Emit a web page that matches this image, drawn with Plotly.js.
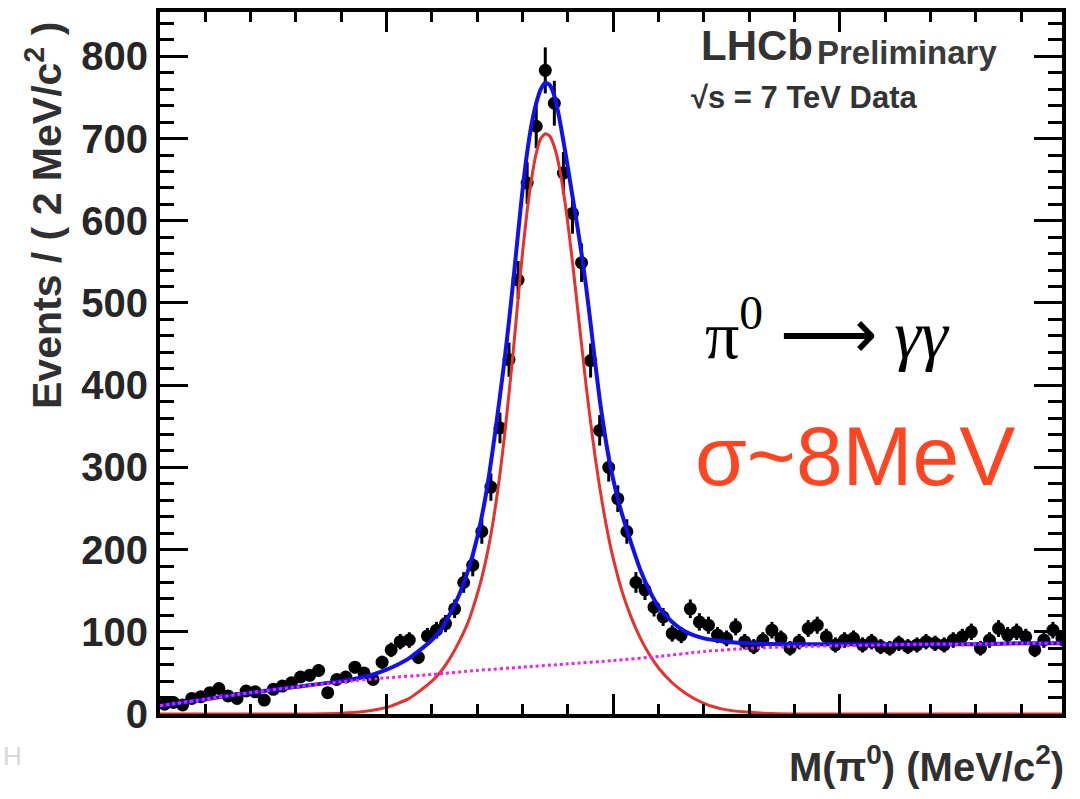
<!DOCTYPE html>
<html>
<head>
<meta charset="utf-8">
<script src="https://cdn.plot.ly/plotly-3.0.1.min.js"></script>
<style>
  html, body { margin: 0; padding: 0; background: #ffffff; }
  #chart { width: 1080px; height: 799px; }
</style>
</head>
<body>
<div id="chart"></div>
<script>
// ---- Data (M(pi0) in MeV/c^2, 2 MeV bins) ----
const binMass = [51,53,55,57,59,61,63,65,67,69,71,73,75,77,79,81,83,85,87,89,
                 91,93,95,97,99,101,103,105,107,109,111,113,115,117,119,121,123,125,127,129,
                 131,133,135,137,139,141,143,145,147,149,151,153,155,157,159,161,163,165,167,169,
                 171,173,175,177,179,181,183,185,187,189,191,193,195,197,199,201,203,205,207,209,
                 211,213,215,217,219,221,223,225,227,229,231,233,235,237,239,241,243,245,247,249];
const dataCounts = [12,14,11,19,21,26,31,22,19,28,27,17,30,34,38,45,47,53,26,42,
                    45,57,50,42,63,78,88,90,69,95,102,110,128,160,181,222,276,348,431,528,
                    646,715,783,743,658,609,549,430,345,300,262,222,160,151,130,118,98,96,128,112,
                    108,96,92,106,88,82,90,102,92,80,88,104,108,94,84,90,92,84,88,82,
                    80,86,82,84,88,86,84,90,94,100,80,90,104,96,100,94,78,90,102,92];
const dataErrors = [3.5,3.7,3.3,4.4,4.6,5.1,5.6,4.7,4.4,5.3,5.2,4.1,5.5,5.8,6.2,6.7,6.9,7.3,5.1,6.5,
                    6.7,7.5,7.1,6.5,7.9,8.8,9.4,9.5,8.3,9.7,10.1,10.5,11.3,12.6,13.5,14.9,16.6,18.7,20.8,23.0,
                    25.4,26.7,28.0,27.3,25.7,24.7,23.4,20.7,18.6,17.3,16.2,14.9,12.6,12.3,11.4,10.9,9.9,9.8,11.3,10.6,
                    10.4,9.8,9.6,10.3,9.4,9.1,9.5,10.1,9.6,8.9,9.4,10.2,10.4,9.7,9.2,9.5,9.6,9.2,9.4,9.1,
                    8.9,9.3,9.1,9.2,9.4,9.3,9.2,9.5,9.7,10.0,8.9,9.5,10.2,9.8,10.0,9.7,8.8,9.5,10.1,9.6];

// total fit (blue)
const fitMass = [50,60,70,80,90,95,100,105,110,112,114,116,118,120,122,124,126,127,128,129,
                 130,131,132,133,134,135,136,137,138,139,140,141,142,143,144,145,146,147,148,149,
                 150,151,152,154,156,158,160,163,166,170,175,180,190,200,210,220,230,240,250];
const fitTotal = [10,18,26,33,40,45,54,68,90,103,122,145,175,215,270,345,430,478,530,585,
                  638,683,718,743,760,768,765,752,728,697,664,630,596,560,520,475,428,383,345,312,
                  285,262,242,207,175,150,130,112,100,92,88,86,85,85,85,85,85,86,86];

// signal component (red)
const sigMass = [50,80,90,95,100,105,110,112,114,116,118,119,120,121,122,123,124,125,126,127,
                 128,129,130,131,132,133,134,135,136,137,138,139,140,141,142,143,144,145,146,147,
                 148,149,150,152,154,156,158,160,163,166,170,175,180,185,190,250];
const sigVals = [0,0,1,3,8,19,40,52,68,88,112,128,146,166,190,218,252,292,338,390,
                 445,505,562,612,652,682,700,706,703,690,668,636,596,550,500,450,400,355,313,276,
                 243,214,189,148,117,92,72,56,38,25,13,5,2,0.5,0,0];

// background component (magenta dotted)
const bkgMass = [50,60,70,80,90,100,110,120,130,140,150,160,170,180,190,200,210,220,230,240,250];
const bkgVals = [10,18,26,33,39,44,48,53,57,61,65,70,76,80,82,83,84,85,85,86,86];

// y-axis tick values
const yTickVals = [0,100,200,300,400,500,600,700,800];

// ---- Layout helpers (pixel -> paper fraction) ----
const PL = 160, PR = 1062, PT = 12, PB = 714;
const px = x => (x - PL) / (PR - PL);
const py = y => (PB - y) / (PB - PT);

const traces = [
  {
    x: binMass, y: dataCounts, type: 'scatter', mode: 'markers',
    marker: {color: '#000000', size: 13},
    error_y: {type: 'data', array: dataErrors, visible: true, color: '#000000', thickness: 3, width: 0},
    hoverinfo: 'skip', showlegend: false
  },
  {
    x: fitMass, y: fitTotal, type: 'scatter', mode: 'lines',
    line: {color: '#1010f0', width: 4, shape: 'spline', smoothing: 0.6},
    showlegend: false
  },
  {
    x: sigMass, y: sigVals, type: 'scatter', mode: 'lines',
    line: {color: '#e8312c', width: 3, shape: 'spline', smoothing: 0.6},
    showlegend: false
  },
  {
    x: bkgMass, y: bkgVals, type: 'scatter', mode: 'lines',
    line: {color: '#f020f0', width: 3, dash: 'dot', shape: 'spline', smoothing: 0.6},
    showlegend: false
  }
];

const textFont = 'Liberation Sans, Arial, Helvetica, sans-serif';

const layout = {
  width: 1080, height: 799,
  margin: {l: PL, r: 1080 - PR, t: PT, b: 799 - PB, pad: 0},
  paper_bgcolor: '#ffffff', plot_bgcolor: '#ffffff',
  showlegend: false,
  xaxis: {
    range: [50, 249], showgrid: false, zeroline: false,
    showline: true, linecolor: '#000000', linewidth: 4, mirror: 'ticks',
    ticks: 'inside', ticklen: 20, tickwidth: 3, tickcolor: '#000000',
    tick0: 50, dtick: 50, showticklabels: false,
    minor: {ticks: 'inside', ticklen: 10, tickwidth: 3, tickcolor: '#000000', dtick: 10, showgrid: false}
  },
  yaxis: {
    range: [0, 854], showgrid: false, zeroline: false,
    showline: true, linecolor: '#000000', linewidth: 4, mirror: 'ticks',
    ticks: 'inside', ticklen: 28, tickwidth: 3, tickcolor: '#000000',
    tickmode: 'array', tickvals: yTickVals, ticktext: yTickVals.map(String),
    tickfont: {family: textFont, size: 40, color: '#262626', weight: 'bold'},
    minor: {ticks: 'inside', ticklen: 14, tickwidth: 3, tickcolor: '#000000', dtick: 20, showgrid: false}
  },
  annotations: [
    {xref: 'paper', yref: 'paper', x: px(44), y: py(216), text: 'Events / ( 2 MeV/c<sup>2</sup> )',
     textangle: -90, showarrow: false, xanchor: 'center', yanchor: 'middle',
     font: {family: textFont, size: 41, color: '#303030', weight: 'bold'}},
    {xref: 'paper', yref: 'paper', x: px(1066), y: py(764), text: 'M(π<sup>0</sup>) (MeV/c<sup>2</sup>)',
     showarrow: false, xanchor: 'right', yanchor: 'middle',
     font: {family: textFont, size: 40, color: '#303030', weight: 'bold'}},
    {xref: 'paper', yref: 'paper', x: px(699), y: py(46), text: 'LHCb',
     showarrow: false, xanchor: 'left', yanchor: 'middle',
     font: {family: textFont, size: 42, color: '#333333', weight: 'bold'}},
    {xref: 'paper', yref: 'paper', x: px(815), y: py(53), text: 'Preliminary',
     showarrow: false, xanchor: 'left', yanchor: 'middle',
     font: {family: textFont, size: 33, color: '#3a3a3a', weight: 'bold'}},
    {xref: 'paper', yref: 'paper', x: px(689), y: py(97), text: '√s = 7 TeV Data',
     showarrow: false, xanchor: 'left', yanchor: 'middle',
     font: {family: textFont, size: 31, color: '#333333', weight: 'bold'}},
    {xref: 'paper', yref: 'paper', x: px(703), y: py(330), text: 'π<sup>0</sup> ⟶ <i>γγ</i>',
     showarrow: false, xanchor: 'left', yanchor: 'middle',
     font: {family: 'Liberation Serif, Times New Roman, serif', size: 68, color: '#000000'}},
    {xref: 'paper', yref: 'paper', x: px(693), y: py(456), text: 'σ~8MeV',
     showarrow: false, xanchor: 'left', yanchor: 'middle',
     font: {family: textFont, size: 84, color: '#ff4422'}},
    {xref: 'paper', yref: 'paper', x: px(12), y: py(756), text: 'H',
     showarrow: false, xanchor: 'center', yanchor: 'middle',
     font: {family: textFont, size: 26, color: '#d8d8d8'}}
  ]
};

Plotly.newPlot('chart', traces, layout, {displayModeBar: false, staticPlot: true});
</script>
</body>
</html>
